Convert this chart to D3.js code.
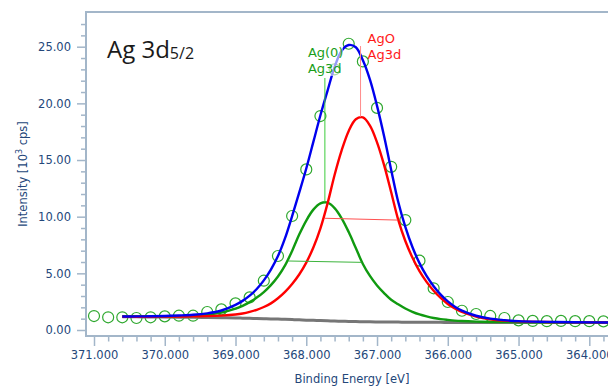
<!DOCTYPE html>
<html>
<head>
<meta charset="utf-8">
<script src="https://cdn.jsdelivr.net/npm/d3@7"></script>
<style>
  html, body { margin: 0; padding: 0; background: #fff; }
  svg { display: block; }
  .tick text { font-family: "DejaVu Sans", sans-serif; font-size: 11.5px; fill: #24477a; }
  .axis-title { font-family: "DejaVu Sans", sans-serif; font-size: 11.5px; fill: #24477a; }
  .peak-label { font-family: "DejaVu Sans", sans-serif; font-size: 13px; }
</style>
</head>
<body>
<div id="app"></div>
<script>
// measured points (binding energy in eV, intensity in 10^3 cps)
const dataEnergy = [371.0, 370.8, 370.6, 370.4, 370.2, 370.0, 369.8, 369.6, 369.4, 369.2,
  369.0, 368.8, 368.6, 368.4, 368.2, 368.0, 367.8, 367.6, 367.4, 367.2,
  367.0, 366.8, 366.6, 366.4, 366.2, 366.0, 365.8, 365.6, 365.4, 365.2,
  365.0, 364.8, 364.6, 364.4, 364.2, 364.0, 363.8];
const dataCounts = [1.23, 1.12, 1.12, 1.06, 1.12, 1.20, 1.26, 1.26, 1.59, 1.82,
  2.35, 2.88, 4.35, 6.53, 10.06, 14.17, 18.88, 23.0, 25.26, 23.7,
  19.6, 14.4, 9.7, 6.12, 3.68, 2.47, 1.70, 1.41, 1.24, 1.06,
  0.85, 0.80, 0.78, 0.80, 0.78, 0.78, 0.76];

const fitEnergy = [370.6, 370.4, 370.2, 370.0, 369.8, 369.6, 369.4, 369.2, 369.0,
  368.9, 368.8, 368.7, 368.6, 368.5, 368.4, 368.3, 368.2, 368.1, 368.0,
  367.9, 367.8, 367.7, 367.6, 367.5, 367.4, 367.3, 367.2, 367.1, 367.0,
  366.9, 366.8, 366.7, 366.6, 366.5, 366.4, 366.3, 366.2, 366.1, 366.0,
  365.9, 365.8, 365.6, 365.4, 365.2, 365.0, 364.6, 364.2, 363.6];
const backgroundFit = [1.17, 1.16, 1.15, 1.14, 1.13, 1.12, 1.10, 1.08, 1.06,
  1.045, 1.03, 1.015, 1.00, 0.98, 0.96, 0.94, 0.92, 0.895, 0.87,
  0.85, 0.83, 0.81, 0.79, 0.775, 0.76, 0.745, 0.73, 0.72, 0.71,
  0.705, 0.70, 0.695, 0.69, 0.685, 0.68, 0.678, 0.675, 0.673, 0.67,
  0.669, 0.668, 0.666, 0.664, 0.662, 0.66, 0.66, 0.66, 0.66];
const metalFit = [1.19, 1.19, 1.19, 1.20, 1.22, 1.26, 1.36, 1.54, 1.88,
  2.13, 2.46, 2.86, 3.35, 3.96, 4.72, 5.70, 6.98, 8.42, 9.66,
  10.62, 11.17, 11.24, 10.76, 9.86, 8.64, 7.23, 5.83, 4.77, 3.93,
  3.26, 2.67, 2.27, 1.90, 1.60, 1.37, 1.20, 1.06, 0.96, 0.89,
  0.83, 0.79, 0.74, 0.71, 0.70, 0.684, 0.67, 0.66, 0.66];
const oxideFit = [1.175, 1.17, 1.17, 1.18, 1.19, 1.20, 1.22, 1.27, 1.37,
  1.46, 1.60, 1.78, 2.03, 2.35, 2.80, 3.36, 4.06, 4.90, 5.95,
  7.28, 8.97, 11.15, 13.68, 15.85, 17.57, 18.60, 18.76, 18.04, 16.56,
  14.55, 12.16, 9.72, 7.85, 6.39, 5.19, 4.25, 3.47, 2.83, 2.30,
  1.90, 1.59, 1.19, 0.95, 0.83, 0.76, 0.71, 0.68, 0.665];
const envelopeFit = [1.19, 1.20, 1.21, 1.24, 1.28, 1.34, 1.47, 1.72, 2.22,
  2.57, 3.03, 3.62, 4.38, 5.33, 6.52, 8.10, 10.05, 12.12, 14.25,
  16.60, 18.95, 21.10, 23.20, 24.65, 25.15, 24.95, 23.80, 22.09, 19.78,
  17.10, 14.13, 11.29, 9.10, 7.32, 5.90, 4.77, 3.86, 3.12, 2.52,
  2.06, 1.71, 1.26, 1.00, 0.87, 0.78, 0.72, 0.68, 0.665];

// component markers: peak position, peak height, marker line top, FWHM line ends
const peakNames = [["Ag(0)", "Ag3d"], ["AgO", "Ag3d"]];
const peakCenters = [367.737, 367.233];
const peakTops = [11.28, 18.82];
const markerTops = [22.24, 25.06];
const halfLeft = [[368.256, 6.09], [367.737, 9.86]];
const halfRight = [[367.22, 5.97], [366.706, 9.70]];

const yTicks = d3.range(0, 28, 1);
const xTicks = d3.range(0, 37).map((i) => +(371 - i * 0.2).toFixed(1));

const W = 608, H = 387;
const plotLeft = 86, plotTop = 12, plotBottom = 336;

const svg = d3.select("#app").append("svg").attr("width", W).attr("height", H);

const x = d3.scaleLinear().domain([371, 364]).range([94, 589.3]);
const y = d3.scaleLinear().domain([0, 25]).range([330, 46.7]);

const axisColor = "#a3b6c9";

svg.append("defs").append("clipPath").attr("id", "plot")
  .append("rect").attr("x", plotLeft).attr("y", plotTop)
  .attr("width", W - plotLeft).attr("height", plotBottom - plotTop);

// y axis
const yAxis = svg.append("g").attr("transform", `translate(${plotLeft},0)`)
  .call(d3.axisLeft(y).tickValues(yTicks)
    .tickSize(0).tickPadding(0)
    .tickFormat((d) => (d % 5 === 0 ? d3.format(".2f")(d) : "")));
yAxis.select(".domain").remove();
yAxis.selectAll(".tick line")
  .attr("x2", (d) => (d % 5 === 0 ? -9 : -5))
  .attr("stroke", axisColor).attr("stroke-width", 1.5);
yAxis.selectAll(".tick text").attr("x", -15);

// x axis
const isMajor = (d) => Math.abs(d - Math.round(d)) < 1e-6;
const xAxis = svg.append("g").attr("transform", `translate(0,${plotBottom})`)
  .call(d3.axisBottom(x).tickValues(xTicks)
    .tickSize(0).tickPadding(0)
    .tickFormat((d) => (isMajor(d) ? d3.format(".3f")(d) : "")));
xAxis.select(".domain").remove();
xAxis.selectAll(".tick line")
  .attr("y2", (d) => (isMajor(d) ? 10 : 5.5))
  .attr("stroke", axisColor).attr("stroke-width", 1.5);
xAxis.selectAll(".tick text").attr("y", 15);

// frame
svg.append("path")
  .attr("d", `M${W},${plotTop}H${plotLeft}V${plotBottom}H${W}`)
  .attr("fill", "none").attr("stroke", axisColor).attr("stroke-width", 2);

svg.append("text").attr("class", "axis-title")
  .attr("x", 352).attr("y", 383).attr("text-anchor", "middle")
  .text("Binding Energy [eV]");

const yTitle = svg.append("text").attr("class", "axis-title")
  .attr("transform", "translate(27,174) rotate(-90)").attr("text-anchor", "middle");
yTitle.append("tspan").text("Intensity [10");
yTitle.append("tspan").attr("dy", -5).attr("font-size", "8px").text("3");
yTitle.append("tspan").attr("dy", 5).text(" cps]");

const plot = svg.append("g").attr("clip-path", "url(#plot)");

// data circles
plot.append("g").selectAll("circle")
  .data(dataEnergy.map((e, i) => [e, dataCounts[i]]))
  .join("circle")
  .attr("cx", (d) => x(d[0])).attr("cy", (d) => y(d[1])).attr("r", 5.5)
  .attr("fill", "none").attr("stroke", "#2fa82f").attr("stroke-width", 1.2);

const line = d3.line().x((d) => x(d[0])).y((d) => y(d[1]))
  .curve(d3.curveCatmullRom.alpha(0.5));
const series = [
  { vals: backgroundFit, color: "#767676", width: 3 },
  { vals: metalFit, color: "#109a10", width: 2.4 },
  { vals: oxideFit, color: "#ff0000", width: 2.4 },
  { vals: envelopeFit, color: "#0000ee", width: 2.4 },
];
series.forEach((s) => {
  plot.append("path")
    .datum(fitEnergy.map((e, i) => [e, s.vals[i]]))
    .attr("d", line).attr("fill", "none")
    .attr("stroke", s.color).attr("stroke-width", s.width);
});

// component markers
const markColors = ["#3ccc3c", "#ff8c8c"];
const halfColors = ["#3cb43c", "#ff5050"];
const textColors = ["#1a9e1a", "#ff1a1a"];
peakCenters.forEach((c, i) => {
  plot.append("line")
    .attr("x1", x(c)).attr("x2", x(c))
    .attr("y1", y(peakTops[i])).attr("y2", y(markerTops[i]))
    .attr("stroke", markColors[i]).attr("stroke-width", 1);
  plot.append("line")
    .attr("x1", x(halfLeft[i][0])).attr("y1", y(halfLeft[i][1]))
    .attr("x2", x(halfRight[i][0])).attr("y2", y(halfRight[i][1]))
    .attr("stroke", halfColors[i]).attr("stroke-width", 1);
});

// labels
const labelX = [x(peakCenters[0]) - 17, x(peakCenters[1]) + 7];
const labelY = [57, 43];
peakNames.forEach((lines, i) => {
  const g = svg.append("g");
  if (i === 0) {
    g.append("rect").attr("x", labelX[i] - 1).attr("y", labelY[i] - 12)
      .attr("width", 36).attr("height", 31).attr("fill", "#fff").attr("opacity", 0.6);
  }
  lines.forEach((t, j) => {
    g.append("text").attr("class", "peak-label")
      .attr("x", labelX[i]).attr("y", labelY[i] + j * 15.5)
      .attr("fill", textColors[i]).text(t);
  });
});

const title = svg.append("text")
  .attr("x", 107).attr("y", 58)
  .attr("font-family", "'Open Sans', sans-serif").attr("fill", "#1a1a1a");
title.append("tspan").attr("font-size", "24px").text("Ag 3d");
title.append("tspan").attr("font-size", "16px").attr("dy", 1).text("5/2");
</script>
</body>
</html>
